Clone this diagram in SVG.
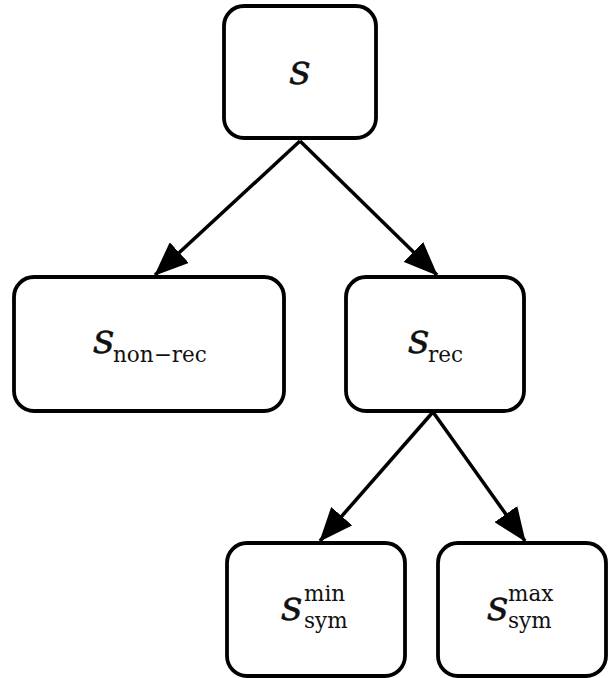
<svg xmlns="http://www.w3.org/2000/svg" width="608" height="678" viewBox="0 0 608 678">
<style>
.box{fill:#fff;stroke:#000;stroke-width:3.8}
.edge{stroke:#000;stroke-width:3.5;fill:none}
.m{font-family:'DejaVu Serif',serif;font-style:italic;font-size:42px;fill:#111;stroke:#111;stroke-width:0.3}
.s{font-family:'DejaVu Serif',serif;font-size:21.5px;fill:#111}
</style>
<defs>
<marker id="ah" markerUnits="userSpaceOnUse" markerWidth="34" markerHeight="28" viewBox="0 0 34 28" refX="33" refY="14" orient="auto">
<path d="M0,0 L34,14 L0,28 Z" fill="#000"/>
</marker>
</defs>
<g id="connectors">
<line class="edge" x1="300" y1="141" x2="155" y2="275" marker-end="url(#ah)"/>
<line class="edge" x1="300" y1="141" x2="437" y2="275" marker-end="url(#ah)"/>
<line class="edge" x1="433" y1="412" x2="320" y2="541" marker-end="url(#ah)"/>
<line class="edge" x1="433" y1="412" x2="525" y2="541" marker-end="url(#ah)"/>
</g>
<g id="node-s">
<rect class="box" x="224" y="6" width="152" height="132" rx="20"/>
<text class="m" x="300" y="84" text-anchor="middle">s</text>
</g>
<g id="node-nonrec">
<rect class="box" x="14" y="277" width="270" height="134" rx="20"/>
<text class="m" x="93" y="353">s</text>
<text class="s" x="113" y="362">non−rec</text>
</g>
<g id="node-rec">
<rect class="box" x="346" y="277" width="178" height="134" rx="20"/>
<text class="m" x="408" y="353">s</text>
<text class="s" x="428" y="362">rec</text>
</g>
<g id="node-symmin">
<rect class="box" x="227" y="543" width="178" height="133" rx="20"/>
<text class="m" x="281" y="620">s</text>
<text class="s" x="304" y="601">min</text>
<text class="s" x="304" y="628">sym</text>
</g>
<g id="node-symmax">
<rect class="box" x="438" y="543" width="168" height="133" rx="20"/>
<text class="m" x="487" y="620">s</text>
<text class="s" x="508" y="601">max</text>
<text class="s" x="508" y="628">sym</text>
</g>
</svg>
